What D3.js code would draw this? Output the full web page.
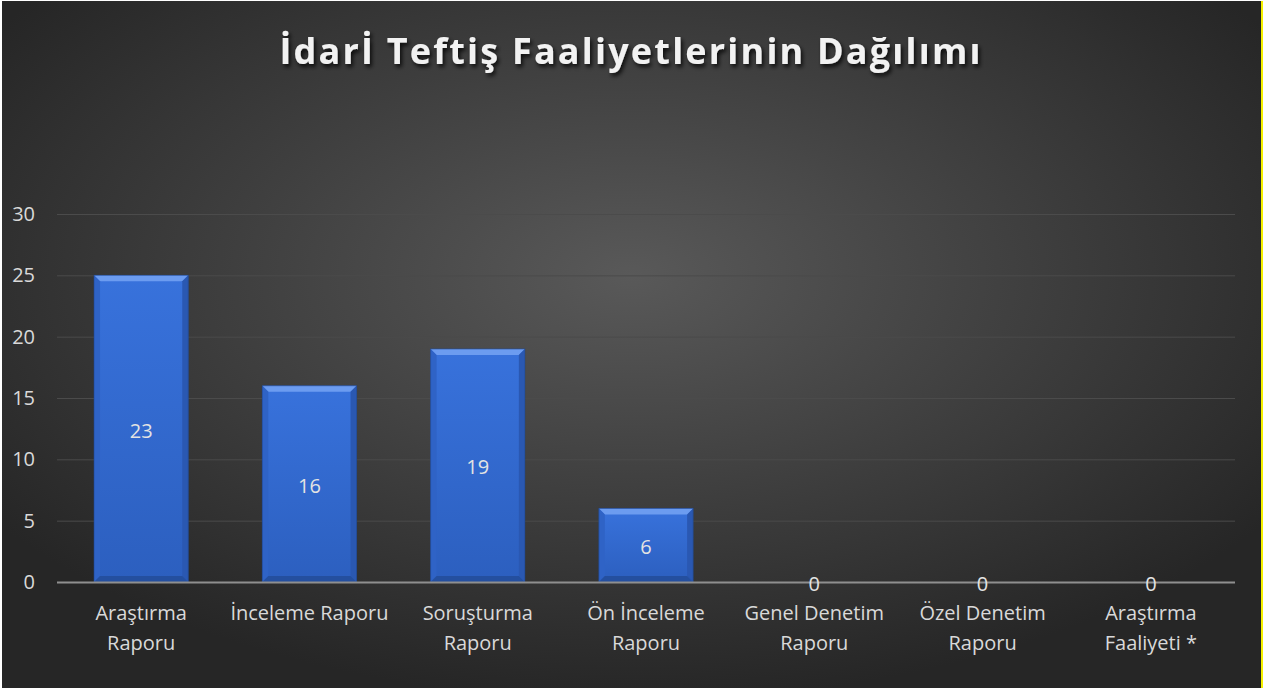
<html>
<head>
	<meta charset="utf-8">
	<title>idari teftis</title>
	<style>
		body {
			margin:0;
			padding:0;
			background:#fff;
			font-family: "Open Sans", sans-serif;
		}
		.grid line { stroke:#4b4b4b; stroke-width:1; }
		.ytick text { fill:#d9d9d9; font-size:20px; }
		.xlab text { fill:#d9d9d9; font-size:20px; }
		.val { fill:#e3e3e3; font-size:20px; }
	</style>
</head>
<body>

	<svg width="1268" height="688"></svg>

	<script src="https://d3js.org/d3.v7.min.js"></script>
	<script>

		// chart data
		var categories = ["Araştırma Raporu", "İnceleme Raporu", "Soruşturma Raporu", "Ön İnceleme Raporu",
			"Genel Denetim Raporu", "Özel Denetim Raporu", "Araştırma Faaliyeti *"];
		var tickLines = [["Araştırma", "Raporu"], ["İnceleme Raporu"], ["Soruşturma", "Raporu"], ["Ön İnceleme", "Raporu"],
			["Genel Denetim", "Raporu"], ["Özel Denetim", "Raporu"], ["Araştırma", "Faaliyeti *"]];
		var barValues = [25, 16, 19, 6, 0, 0, 0];
		var labelValues = [23, 16, 19, 6, 0, 0, 0];
		var yTicks = [0, 5, 10, 15, 20, 25, 30];
		var title = "İdarİ Teftiş Faaliyetlerinin Dağılımı";

		var svg = d3.select("svg");
		var defs = svg.append("defs");

		var bg = defs.append("radialGradient").attr("id", "bg")
			.attr("cx", "50%").attr("cy", "40%").attr("r", "62%");
		bg.append("stop").attr("offset", "0%").attr("stop-color", "#595959");
		bg.append("stop").attr("offset", "100%").attr("stop-color", "#262626");

		var barGrad = defs.append("linearGradient").attr("id", "bar")
			.attr("x1", 0).attr("y1", 0).attr("x2", 0).attr("y2", 1);
		barGrad.append("stop").attr("offset", "0%").attr("stop-color", "#3872dc");
		barGrad.append("stop").attr("offset", "100%").attr("stop-color", "#2c5fbf");

		var shadow = defs.append("filter").attr("id", "shadow")
			.attr("x", "-10%").attr("y", "-30%").attr("width", "120%").attr("height", "160%");
		shadow.append("feDropShadow").attr("dx", 2).attr("dy", 3).attr("stdDeviation", 2)
			.attr("flood-color", "#000").attr("flood-opacity", 0.8);

		// frame
		svg.append("rect").attr("x", 2).attr("y", 1).attr("width", 1259).attr("height", 687)
			.attr("fill", "url(#bg)");
		svg.append("rect").attr("x", 1261).attr("y", 1).attr("width", 2).attr("height", 687)
			.attr("fill", "#f4f000");

		var x = d3.scaleBand().domain(categories).range([57, 1235]).paddingInner(0.44).paddingOuter(0.22);
		var y = d3.scaleLinear().domain([0, 30]).range([582, 214]);

		// grid
		svg.append("g").attr("class", "grid")
			.selectAll("line").data(yTicks.slice(1)).enter().append("line")
			.attr("x1", 57).attr("x2", 1235)
			.attr("y1", function(d){ return y(d) + 0.5; })
			.attr("y2", function(d){ return y(d) + 0.5; });

		svg.append("g").attr("class", "ytick")
			.selectAll("text").data(yTicks).enter().append("text")
			.attr("x", 35).attr("y", function(d){ return y(d); })
			.attr("dy", "0.35em").attr("text-anchor", "end")
			.text(function(d){ return d; });

		// bars with bevel
		var bars = svg.append("g").selectAll("g").data(barValues).enter().append("g")
			.filter(function(d){ return d > 0; });

		bars.each(function(d, i) {
			var g = d3.select(this);
			var x0 = x(categories[i]), w = x.bandwidth();
			var y0 = y(d), y1 = y(0), b = 6;
			g.append("rect").attr("x", x0).attr("y", y0).attr("width", w).attr("height", y1 - y0)
				.attr("fill", "url(#bar)");
			// top bevel
			g.append("polygon").attr("points", [[x0, y0], [x0 + w, y0], [x0 + w - b, y0 + b], [x0 + b, y0 + b]].join(" "))
				.attr("fill", "#6c9cf0");
			// left
			g.append("polygon").attr("points", [[x0, y0], [x0 + b, y0 + b], [x0 + b, y1 - b], [x0, y1]].join(" "))
				.attr("fill", "#2f63c6");
			// right
			g.append("polygon").attr("points", [[x0 + w, y0], [x0 + w - b, y0 + b], [x0 + w - b, y1 - b], [x0 + w, y1]].join(" "))
				.attr("fill", "#2a58b2");
			// bottom
			g.append("polygon").attr("points", [[x0, y1], [x0 + b, y1 - b], [x0 + w - b, y1 - b], [x0 + w, y1]].join(" "))
				.attr("fill", "#244f9f");
			g.append("rect").attr("x", x0).attr("y", y0).attr("width", w).attr("height", y1 - y0)
				.attr("fill", "none").attr("stroke", "#1f4690").attr("stroke-width", 1).attr("stroke-opacity", 0.6);
		});

		// axis line
		svg.append("line").attr("x1", 57).attr("x2", 1235)
			.attr("y1", y(0) + 0.5).attr("y2", y(0) + 0.5)
			.attr("stroke", "#8f8f8f").attr("stroke-width", 2);

		// value labels
		svg.append("g").selectAll("text").data(barValues).enter().append("text")
			.attr("class", "val")
			.attr("x", function(d, i){ return x(categories[i]) + x.bandwidth() / 2; })
			.attr("y", function(d){ return (y(d) + y(0)) / 2 + 2; })
			.attr("dy", "0.35em").attr("text-anchor", "middle")
			.text(function(d, i){ return labelValues[i]; });

		// category labels
		var xl = svg.append("g").attr("class", "xlab");
		tickLines.forEach(function(lines, i) {
			var t = xl.append("text").attr("text-anchor", "middle")
				.attr("x", x(categories[i]) + x.bandwidth() / 2).attr("y", 620);
			lines.forEach(function(s, j) {
				t.append("tspan").attr("x", x(categories[i]) + x.bandwidth() / 2)
					.attr("dy", j == 0 ? 0 : 30).text(s);
			});
		});

		// title
		svg.append("text").attr("x", 631).attr("y", 64)
			.attr("text-anchor", "middle")
			.style("font-size", "36px").style("font-weight", "bold")
			.style("letter-spacing", "2.2px")
			.attr("fill", "#f2f2f2").attr("filter", "url(#shadow)")
			.text(title);

	</script>
</body>
</html>
